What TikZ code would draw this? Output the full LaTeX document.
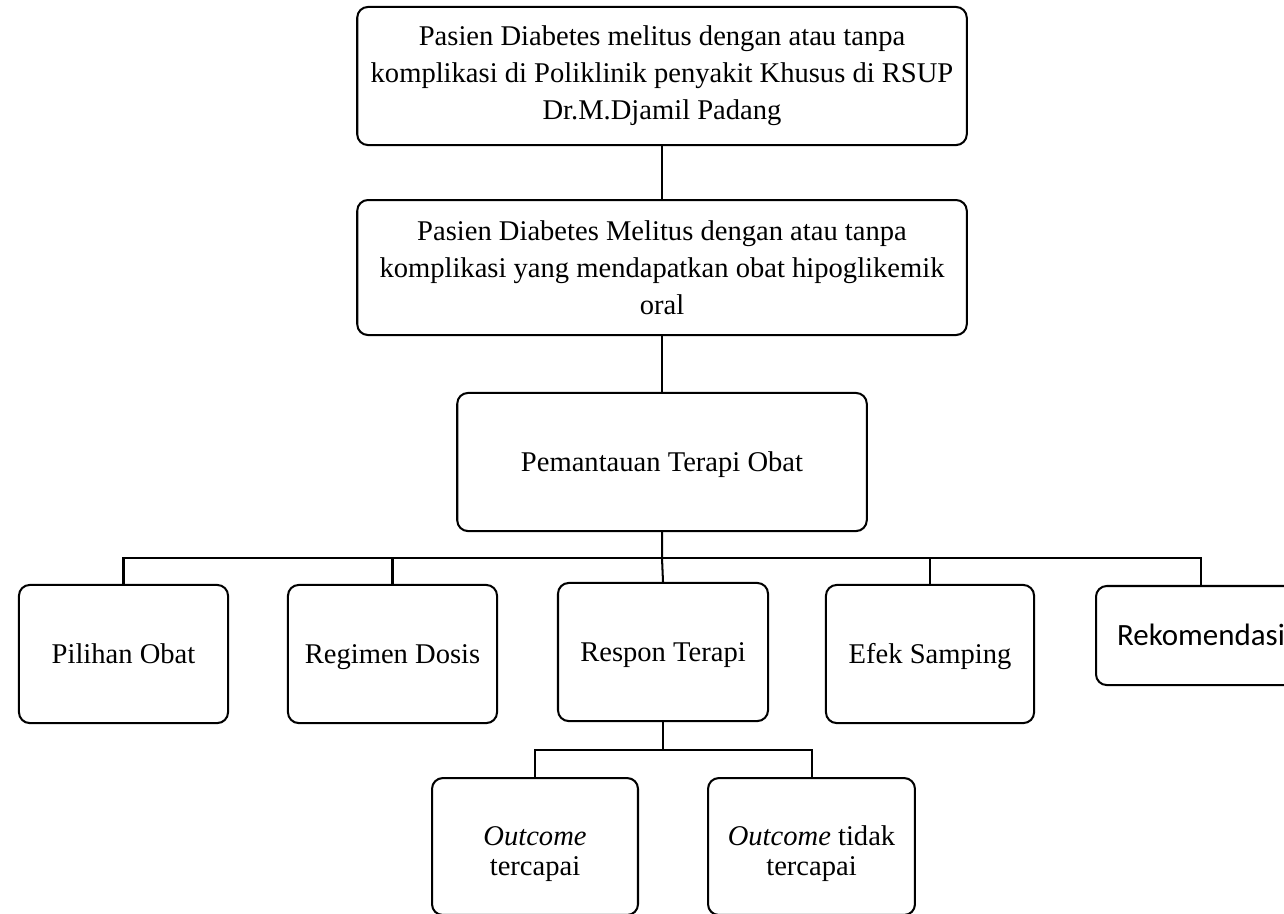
\documentclass[tikz,border=0pt]{standalone}
\usepackage{fontspec}
\setmainfont{Liberation Serif}
\newfontfamily\calibri{Carlito}
\usepackage{tikz}
\usetikzlibrary{calc}
\usetikzlibrary{positioning}

\tikzset{
  kotak/.style={draw,line width=0.85pt,rounded corners=4.5pt,align=center,
    inner sep=0pt,font=\fontsize{12}{15.5}\selectfont},
  satu/.style={text height=10pt,text depth=2pt},
  garis/.style={line width=0.85pt}
}

\begin{document}
\begin{tikzpicture}[x=0.42pt,y=-0.42pt]
      \useasboundingbox (0,0) rectangle (1284,913);
      \clip (0,0) rectangle (1284,913);
      \node[kotak,minimum width=256pt,minimum height=58pt] (pasien) at (662,76)
        {Pasien Diabetes melitus dengan atau tanpa\\komplikasi di Poliklinik penyakit Khusus di RSUP\\Dr.M.Djamil Padang};
      \node[kotak,minimum width=256pt,minimum height=56.7pt] (oral) at (662,267.5)
        {Pasien Diabetes Melitus dengan atau tanpa\\komplikasi yang mendapatkan obat hipoglikemik\\oral};
      \node[kotak,satu,minimum width=172pt,minimum height=58pt] (pto) at (662,462) {Pemantauan Terapi Obat};
      \node[kotak,satu,minimum width=87.8pt,minimum height=58pt] (pilihan) at (123.5,654) {Pilihan Obat};
      \node[kotak,satu,minimum width=87.8pt,minimum height=58pt] (regimen) at (392.5,654) {Regimen Dosis};
      \node[kotak,satu,minimum width=88.2pt,minimum height=58pt] (respon) at (663,652) {Respon Terapi};
      \node[kotak,satu,minimum width=87.4pt,minimum height=58pt] (efek) at (930,654) {Efek Samping};
      \node[kotak,satu,minimum width=88.2pt,minimum height=41.6pt,font=\calibri\fontsize{13}{15}\selectfont] (rekomendasi) at (1201,635.5) {Rekomendasi};
      \node[kotak,minimum width=86.5pt,minimum height=57.5pt,text height=24pt,text depth=0pt,font=\fontsize{12}{12.5}\selectfont] (tercapai) at (535,846.5) {\textit{Outcome}\\tercapai};
      \node[kotak,minimum width=86.9pt,minimum height=57.5pt,text height=24pt,text depth=0pt,font=\fontsize{12}{12.5}\selectfont] (tidak) at (811.5,846.5) {\textit{Outcome} tidak\\tercapai};
      \coordinate (cabang) at (662,558);
      \coordinate (cabang2) at (663,750);
      \draw[garis] (pasien) -- (oral);
      \draw[garis] (oral) -- (pto);
      \draw[garis] (pto.south) -- (cabang) -- (respon.north);
      \draw[garis] (pilihan.north) |- (cabang) -| (rekomendasi.north);
      \draw[garis] (regimen.north) -- (regimen.north |- cabang);
      \draw[garis] (efek.north) -- (efek.north |- cabang);
      \draw[garis] (respon.south) -- (cabang2);
      \draw[garis] (tercapai.north) |- (cabang2) -| (tidak.north);
\end{tikzpicture}
\end{document}
